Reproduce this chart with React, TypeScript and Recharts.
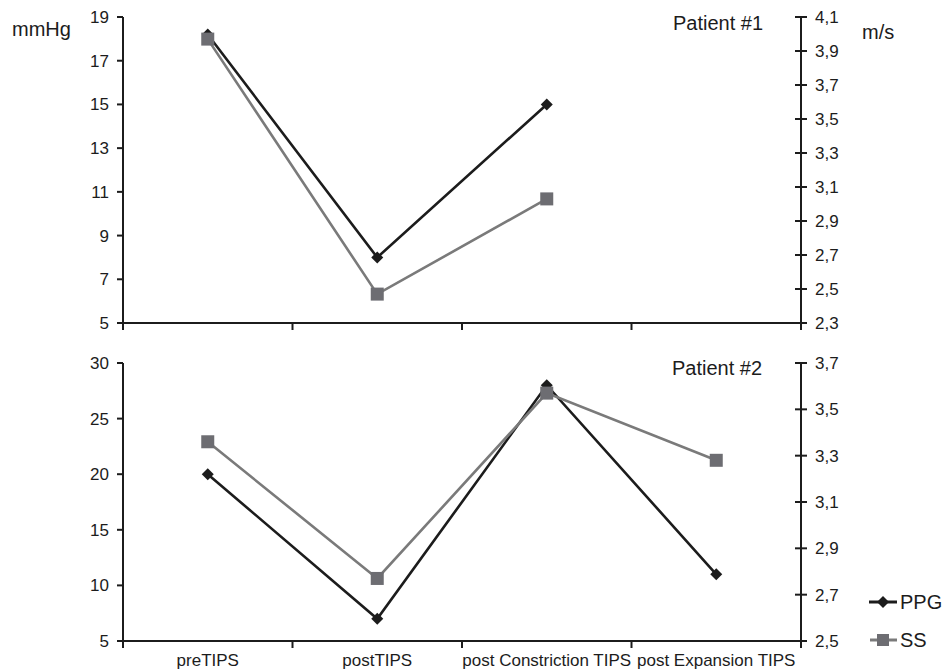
import React from "react";
import {Legend, Line, LineChart, XAxis, YAxis} from "recharts";

const categories = ["preTIPS", "postTIPS", "post Constriction TIPS", "post Expansion TIPS"];

// patient #1 (no expansion measurement)
const p1Ppg = [18.2, 8, 15, null];
const p1Ss = [3.97, 2.47, 3.03, null];

// patient #2
const p2Ppg = [20, 7, 28, 11];
const p2Ss = [3.36, 2.77, 3.57, 3.28];

const p1LeftTicks = [5, 7, 9, 11, 13, 15, 17, 19];
const p1RightTicks = [2.3, 2.5, 2.7, 2.9, 3.1, 3.3, 3.5, 3.7, 3.9, 4.1];
const p2LeftTicks = [5, 10, 15, 20, 25, 30];
const p2RightTicks = [2.5, 2.7, 2.9, 3.1, 3.3, 3.5, 3.7];

const boundaryTicks = [0, 1, 2, 3, 4];
const labelTicks = [0.5, 1.5, 2.5, 3.5];

const FONT = "'Liberation Sans', Arial, Helvetica, sans-serif";
const INK = "#1c1c1c";
const GREY_LINE = "#7a7a7a";
const GREY_MARK = "#6d6d72";

const toRows = (ppg: (number | null)[], ss: (number | null)[]) =>
    categories.map((c, i) => ({x: i + 0.5, name: c, ppg: ppg[i], ss: ss[i]}));

const p1Data = toRows(p1Ppg, p1Ss);
const p2Data = toRows(p2Ppg, p2Ss);

const Diamond = (props: any) => {
    const {cx, cy, index} = props;
    if (cx == null || cy == null) return <g key={"d" + index}/>;
    const r = 6;
    return <path key={"d" + index} d={`M${cx},${cy - r}L${cx + r},${cy}L${cx},${cy + r}L${cx - r},${cy}Z`} fill={INK}/>;
};

const Square = (props: any) => {
    const {cx, cy, index} = props;
    if (cx == null || cy == null) return <g key={"s" + index}/>;
    const h = 6.5;
    return <rect key={"s" + index} x={cx - h} y={cy - h} width={h * 2} height={h * 2} fill={GREY_MARK}/>;
};

const comma = (v: number) => v.toFixed(1).replace(".", ",");

const RightTick = (props: any) => {
    const {x, y, payload} = props;
    return <g>
        <line x1={x - 6} x2={x + 6} y1={y} y2={y} stroke={INK} strokeWidth={2}/>
        <text x={x + 14} y={y} dy="0.36em" textAnchor="start" fontSize={17} fontFamily={FONT} fill={INK}>{comma(payload.value)}</text>
    </g>;
};

const makeXTick = (showLabels: boolean) => (props: any) => {
    const {x, y, payload} = props;
    const v = payload.value;
    if (Number.isInteger(v)) {
        return <line x1={x} x2={x} y1={y} y2={y + 7} stroke={INK} strokeWidth={2}/>;
    }
    if (!showLabels) return <g/>;
    return <text x={x} y={y + 25} textAnchor="middle" fontSize={17} fontFamily={FONT} fill={INK}>
        {categories[Math.floor(v)]}
    </text>;
};

const LegendContent = () => <div style={{fontFamily: FONT, fontSize: 20, color: INK}}>
    <div style={{display: "flex", alignItems: "center", height: 20, marginBottom: 18}}>
        <svg width={34} height={20}>
            <line x1={3} x2={31} y1={10} y2={10} stroke={INK} strokeWidth={3}/>
            <path d="M17,4L23,10L17,16L11,10Z" fill={INK}/>
        </svg>
        <span>PPG</span>
    </div>
    <div style={{display: "flex", alignItems: "center", height: 20}}>
        <svg width={34} height={20}>
            <line x1={4} x2={31} y1={10} y2={10} stroke={GREY_LINE} strokeWidth={3}/>
            <rect x={11} y={4} width={12} height={12} fill={GREY_MARK}/>
        </svg>
        <span>SS</span>
    </div>
</div>;

const axisProps = {
    stroke: INK,
    strokeWidth: 2,
    tick: {fill: INK, fontSize: 17, fontFamily: FONT},
};

type PanelProps = {
    data: any[];
    height: number;
    top: number;
    xHeight: number;
    leftDomain: number[];
    leftTicks: number[];
    rightDomain: number[];
    rightTicks: number[];
    showLabels: boolean;
    legend?: boolean;
};

const Panel = ({data, height, top, xHeight, leftDomain, leftTicks, rightDomain, rightTicks, showLabels, legend}: PanelProps) =>
    <LineChart width={944} height={height} data={data} margin={{top, left: 73, right: 43, bottom: 2}}>
        <XAxis type="number" dataKey="x" domain={[0, 4]} ticks={[...boundaryTicks, ...labelTicks]} interval={0}
               height={xHeight} tickLine={false} tickSize={0} tickMargin={0} stroke={INK} strokeWidth={2}
               tick={makeXTick(showLabels)} allowDataOverflow/>
        <YAxis yAxisId="left" orientation="left" width={50} domain={leftDomain} ticks={leftTicks} interval={0}
               tickSize={6} tickMargin={8} allowDataOverflow {...axisProps}/>
        <YAxis yAxisId="right" orientation="right" width={100} domain={rightDomain} ticks={rightTicks} interval={0}
               tickLine={false} tickSize={0} tickMargin={0} stroke={INK} strokeWidth={2} tick={RightTick} allowDataOverflow/>
        <Line yAxisId="left" dataKey="ppg" name="PPG" stroke={INK} strokeWidth={2.6} dot={Diamond}
              activeDot={false} isAnimationActive={false}/>
        <Line yAxisId="right" dataKey="ss" name="SS" stroke={GREY_LINE} strokeWidth={2.6} dot={Square}
              activeDot={false} isAnimationActive={false}/>
        {legend && <Legend layout="horizontal" verticalAlign="middle" width={80} content={LegendContent}
                           wrapperStyle={{left: 866, top: 247, width: 80}}/>}
    </LineChart>;

const textStyle = (left: number, top: number, size: number): React.CSSProperties => ({
    position: "absolute", left, top, fontSize: size, lineHeight: `${size + 4}px`,
    fontFamily: FONT, color: INK, whiteSpace: "nowrap",
});

export default function App() {
    return <div style={{position: "absolute", left: 0, top: 0, width: 944, height: 672, background: "#fff"}}>
        <div style={{position: "absolute", left: 0, top: 0}}>
            <Panel data={p1Data} height={345} top={17} xHeight={20} leftDomain={[5, 19]} leftTicks={p1LeftTicks}
                   rightDomain={[2.3, 4.1]} rightTicks={p1RightTicks} showLabels={false}/>
        </div>
        <div style={{position: "absolute", left: 0, top: 345}}>
            <Panel data={p2Data} height={327} top={18} xHeight={29} leftDomain={[5, 30]} leftTicks={p2LeftTicks}
                   rightDomain={[2.5, 3.7]} rightTicks={p2RightTicks} showLabels legend/>
        </div>
        <div style={textStyle(12, 17, 20)}>mmHg</div>
        <div style={textStyle(862, 20, 20)}>m/s</div>
        <div style={textStyle(673, 11, 20)}>Patient #1</div>
        <div style={textStyle(672, 356, 20)}>Patient #2</div>
    </div>;
}
